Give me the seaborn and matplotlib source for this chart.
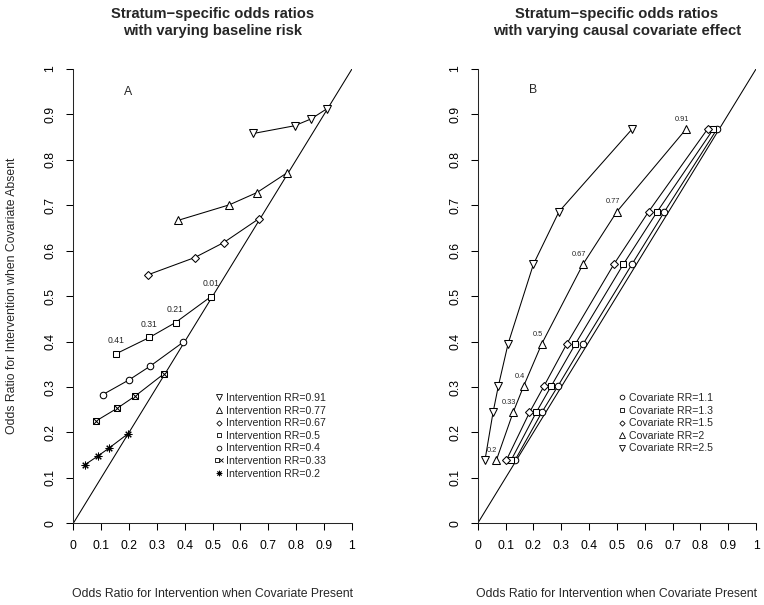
import matplotlib
matplotlib.use("Agg")
import matplotlib.pyplot as plt
import seaborn as sns
import pandas as pd
from matplotlib.lines import Line2D
from matplotlib.legend_handler import HandlerTuple

# ---------------- data ----------------
# Panel A: stratum-specific ORs with varying baseline risk
a_rr = ["0.91", "0.77", "0.67", "0.5", "0.4", "0.33", "0.2"]
a_x_091 = [0.646, 0.794, 0.853, 0.909]
a_y_091 = [0.858, 0.875, 0.890, 0.912]
a_x_077 = [0.377, 0.560, 0.659, 0.766]
a_y_077 = [0.667, 0.701, 0.728, 0.771]
a_x_067 = [0.268, 0.436, 0.540, 0.665]
a_y_067 = [0.547, 0.585, 0.618, 0.670]
a_x_050 = [0.153, 0.273, 0.367, 0.494]
a_y_050 = [0.373, 0.409, 0.442, 0.499]
a_x_040 = [0.105, 0.201, 0.276, 0.395]
a_y_040 = [0.283, 0.316, 0.346, 0.399]
a_x_033 = [0.081, 0.157, 0.222, 0.325]
a_y_033 = [0.225, 0.253, 0.280, 0.329]
a_x_020 = [0.042, 0.088, 0.127, 0.196]
a_y_020 = [0.129, 0.148, 0.165, 0.197]
baseline_risk_labels = ["0.41", "0.31", "0.21", "0.01"]

# Panel B: varying causal covariate effect
b_cov = ["1.1", "1.3", "1.5", "2", "2.5"]
b_y = [0.139, 0.244, 0.302, 0.395, 0.570, 0.686, 0.868]
b_x_11 = [0.134, 0.230, 0.288, 0.379, 0.554, 0.671, 0.860]
b_x_13 = [0.120, 0.210, 0.264, 0.351, 0.523, 0.645, 0.847]
b_x_15 = [0.103, 0.186, 0.238, 0.320, 0.489, 0.614, 0.826]
b_x_20 = [0.067, 0.127, 0.165, 0.230, 0.378, 0.500, 0.749]
b_x_25 = [0.026, 0.055, 0.074, 0.109, 0.200, 0.292, 0.555]
intervention_rr_labels = ["0.2", "0.33", "0.4", "0.5", "0.67", "0.77", "0.91"]

ticks = [0, 0.1, 0.2, 0.3, 0.4, 0.5, 0.6, 0.7, 0.8, 0.9, 1]
tick_labels = ["0", "0.1", "0.2", "0.3", "0.4", "0.5", "0.6", "0.7", "0.8", "0.9", "1"]

# ---------------- style ----------------
sns.set_style("ticks")
plt.rcParams["font.family"] = ["Liberation Sans", "DejaVu Sans"]
plt.rcParams["axes.linewidth"] = 0.75

BASE = 8.8
LW = 0.75
LEG = 7.6

fig = plt.figure(figsize=(7.64, 6.05), dpi=100)
axA = fig.add_axes([0.0959, 0.135, 0.3648, 0.751])
axB = fig.add_axes([0.6253, 0.135, 0.3643, 0.751])

marker_styles = {
    "v": dict(marker="v", ms=6.0),
    "^": dict(marker="^", ms=6.0),
    "D": dict(marker="D", ms=3.7),
    "s": dict(marker="s", ms=4.1),
    "o": dict(marker="o", ms=4.7),
    "*": dict(marker=(8, 2, 0), ms=5.5),
}


def series(ax, xs, ys, key):
    df = pd.DataFrame({"x": xs, "y": ys})
    st = marker_styles[key]
    sns.lineplot(data=df, x="x", y="y", ax=ax, sort=False, estimator=None,
                 color="black", lw=LW, marker=st["marker"], ms=st["ms"],
                 markerfacecolor="white", markeredgecolor="black",
                 markeredgewidth=LW, zorder=3)


def crossed(ax, xs, ys):
    df = pd.DataFrame({"x": xs, "y": ys})
    sns.lineplot(data=df, x="x", y="y", ax=ax, sort=False, estimator=None,
                 color="black", lw=LW, marker="s", ms=4.3,
                 markerfacecolor="white", markeredgecolor="black",
                 markeredgewidth=LW, zorder=3)
    ax.plot(df["x"], df["y"], ls="none", marker="x", ms=4.3,
            mec="black", mew=LW, zorder=4)


def style_axes(ax):
    ax.plot(ticks[::10], ticks[::10], color="black", lw=LW, zorder=1)
    ax.set_xlim(0, 1)
    ax.set_ylim(0, 1)
    ax.set_xticks(ticks)
    ax.set_xticklabels(tick_labels)
    ax.set_yticks(ticks)
    ax.set_yticklabels(tick_labels, rotation=90, va="center")
    ax.tick_params(direction="out", length=5, width=LW, pad=7,
                   labelsize=BASE, colors="black")
    sns.despine(ax=ax)


def finish_labels(ax, ylabel):
    ax.set_xlabel("Odds Ratio for Intervention when Covariate Present",
                  fontsize=BASE, labelpad=26)
    ax.set_ylabel(ylabel, fontsize=BASE, labelpad=19)


# ---------------- Panel A ----------------
style_axes(axA)
series(axA, a_x_091, a_y_091, "v")
series(axA, a_x_077, a_y_077, "^")
series(axA, a_x_067, a_y_067, "D")
series(axA, a_x_050, a_y_050, "s")
series(axA, a_x_040, a_y_040, "o")
crossed(axA, a_x_033, a_y_033)
series(axA, a_x_020, a_y_020, "*")
for lab, x, y in zip(baseline_risk_labels, a_x_050, a_y_050):
    axA.annotate(lab, (x, y), xytext=(0, 9.5), textcoords="offset points",
                 ha="center", va="center", fontsize=6.2)
axA.text(0.196, 0.95, "A", ha="center", va="center", fontsize=BASE)
finish_labels(axA, "Odds Ratio for Intervention when Covariate Absent")
axA.set_title("Stratum\u2212specific odds ratios\nwith varying baseline risk",
              y=1.102, pad=0, va="center", fontweight="bold", fontsize=10.6,
              linespacing=1.25)


def proxy(key):
    st = marker_styles[key]
    return Line2D([], [], ls="none", color="black", marker=st["marker"],
                  ms=st["ms"] * 0.72, mfc="white", mec="black", mew=0.6)


crossed_handle = (Line2D([], [], ls="none", marker="s", ms=3.2, mfc="white",
                         mec="black", mew=0.6),
                  Line2D([], [], ls="none", marker="x", ms=3.2, mec="black",
                         mew=0.6))
handlesA = [proxy("v"), proxy("^"), proxy("D"), proxy("s"), proxy("o"),
            crossed_handle, proxy("*")]
labelsA = ["Intervention RR=" + r for r in a_rr]
axA.legend(handlesA, labelsA, loc="upper left",
           bbox_to_anchor=(0.508, 0.287), frameon=False, fontsize=LEG,
           borderpad=0, borderaxespad=0, handlelength=0.8,
           handletextpad=0.25, labelspacing=0.25,
           handler_map={tuple: HandlerTuple(ndivide=None, pad=0)})

# ---------------- Panel B ----------------
style_axes(axB)
series(axB, b_x_11, b_y, "o")
series(axB, b_x_13, b_y, "s")
series(axB, b_x_15, b_y, "D")
series(axB, b_x_20, b_y, "^")
series(axB, b_x_25, b_y, "v")
for lab, x, y in zip(intervention_rr_labels, b_x_20, b_y):
    axB.annotate(lab, (x, y), xytext=(-3, 7), textcoords="offset points",
                 ha="center", va="center", fontsize=5.3)
axB.text(0.198, 0.953, "B", ha="center", va="center", fontsize=BASE)
finish_labels(axB, "")
axB.set_title("Stratum\u2212specific odds ratios\nwith varying causal covariate effect",
              y=1.102, pad=0, va="center", fontweight="bold", fontsize=10.6,
              linespacing=1.25)
handlesB = [proxy("o"), proxy("s"), proxy("D"), proxy("^"), proxy("v")]
labelsB = ["Covariate RR=" + c for c in b_cov]
axB.legend(handlesB, labelsB, loc="upper left",
           bbox_to_anchor=(0.503, 0.287), frameon=False, fontsize=LEG,
           borderpad=0, borderaxespad=0, handlelength=0.8,
           handletextpad=0.25, labelspacing=0.25)

fig.savefig("out.png", dpi=100)
